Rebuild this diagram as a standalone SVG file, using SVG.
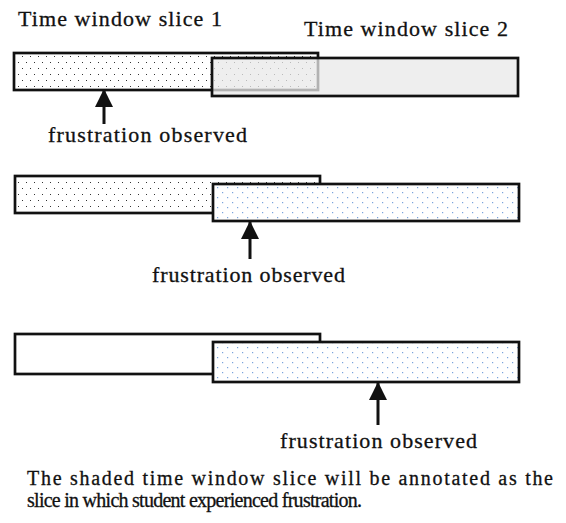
<svg xmlns="http://www.w3.org/2000/svg" width="566" height="523" viewBox="0 0 566 523">
  <style>
    .txt { font-family: "Liberation Serif", "Times New Roman", serif; font-size: 22px; fill: #111; stroke: #111; stroke-width: 0.3; }
    .note { font-size: 20px; }
    .box { stroke: #111; stroke-width: 2.7; }
    .plain { fill: #fff; }
    .dots { fill: url(#blackDots); }
    .blue { fill: url(#blueDots); }
    .grey { fill: #e8e8e8; fill-opacity: 0.75; }
    .conn { stroke: #111; stroke-width: 3; fill: none; marker-end: url(#head); }
  </style>
  <defs>
    <pattern id="blackDots" patternUnits="userSpaceOnUse" width="8" height="12">
      <rect width="8" height="12" fill="#fff"/>
      <rect x="2" y="2" width="1" height="1" fill="#333"/>
      <rect x="6" y="8" width="1" height="1" fill="#333"/>
    </pattern>
    <pattern id="blueDots" patternUnits="userSpaceOnUse" width="10" height="10">
      <rect width="10" height="10" fill="#fff"/>
      <rect x="2" y="2" width="1.2" height="1.2" fill="#7aa3dc"/>
      <rect x="7" y="7" width="1.2" height="1.2" fill="#7aa3dc"/>
    </pattern>
    <marker id="head" markerUnits="userSpaceOnUse" markerWidth="18" markerHeight="18" viewBox="0 0 16 16" refX="15" refY="8" orient="auto">
      <path d="M0,0 L16,8 L0,16 Z" fill="#111"/>
    </marker>
  </defs>

  <!-- row 1: frustration falls inside slice 1 -->
  <g id="row1-slice1">
    <text class="txt" x="18" y="26" textLength="204" lengthAdjust="spacing">Time window slice 1</text>
    <rect class="box dots" x="14" y="53" width="304" height="37"/>
  </g>
  <g id="row1-slice2">
    <text class="txt" x="304" y="36" textLength="204" lengthAdjust="spacing">Time window slice 2</text>
    <rect class="box grey" x="212" y="58" width="306" height="38"/>
  </g>
  <g id="row1-label">
    <text class="txt" x="48" y="142" textLength="199" lengthAdjust="spacing">frustration observed</text>
  </g>

  <!-- row 2: frustration falls inside slice 2 (overlap) -->
  <g id="row2-slice1">
    <rect class="box dots" x="15" y="176" width="305" height="37"/>
  </g>
  <g id="row2-slice2">
    <rect class="box blue" x="213" y="184" width="306" height="37"/>
  </g>
  <g id="row2-label">
    <text class="txt" x="152" y="282" textLength="193" lengthAdjust="spacing">frustration observed</text>
  </g>

  <!-- row 3: frustration falls in slice 2 only -->
  <g id="row3-slice1">
    <rect class="box plain" x="15" y="334" width="305" height="40"/>
  </g>
  <g id="row3-slice2">
    <rect class="box blue" x="213" y="342" width="306" height="40"/>
  </g>
  <g id="row3-label">
    <text class="txt" x="280" y="448" textLength="197" lengthAdjust="spacing">frustration observed</text>
  </g>

  <!-- arrows pointing at the observation moment -->
  <g id="connectors">
    <line class="conn" x1="104" y1="124" x2="104" y2="90"/>
    <line class="conn" x1="250" y1="259" x2="250" y2="222"/>
    <line class="conn" x1="378" y1="425" x2="378" y2="383"/>
  </g>

  <g id="caption">
    <text class="txt note" x="27" y="485" textLength="526" lengthAdjust="spacing">The shaded time window slice will be annotated as the</text>
    <text class="txt note" x="27" y="507" textLength="335" lengthAdjust="spacing">slice in which student experienced frustration.</text>
  </g>
</svg>
